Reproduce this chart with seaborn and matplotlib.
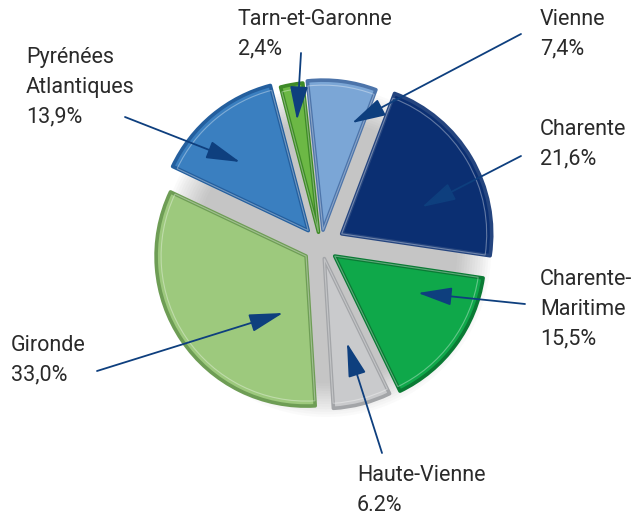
import matplotlib
matplotlib.use("Agg")
import matplotlib.pyplot as plt
import seaborn as sns
from matplotlib.patches import Circle

# ---- data ----
departements = ["Vienne", "Charente", "Charente-Maritime", "Haute-Vienne",
                "Gironde", "Pyrénées Atlantiques", "Tarn-et-Garonne"]
shares = [7.4, 21.6, 15.5, 6.2, 33.0, 13.9, 2.4]
label_texts = ["Vienne\n7,4%", "Charente\n21,6%", "Charente-\nMaritime\n15,5%",
               "Haute-Vienne\n6.2%", "Gironde\n33,0%",
               "Pyrénées\nAtlantiques\n13,9%", "Tarn-et-Garonne\n2,4%"]

# ---- style ----
face_colors = ["#7BA6D6", "#0B2F72", "#0FA84A", "#C9CACC",
               "#9DC97D", "#3A7FC0", "#6CB845"]
edge_colors = ["#4C74AA", "#25457F", "#0A7A34", "#A3A5A8",
               "#6E9D55", "#245F9E", "#3E8A27"]
explode_px = [16, 24, 17, 13, 18, 20, 14]

W, H = 644, 515
R = 150.0
CX, CY = 321.0, H - 246.0

# label layout: (left x, top y in pixels), arrow start, arrow tip (pixels)
label_pos = [(540, 9), (540, 119), (540, 269), (357, 465), (11, 335), (26, 47), (238, 9)]
arrow_start = [(521, 34), (521, 156), (525, 304), (382, 453), (97, 371), (125, 117), (301, 53)]
arrow_tip = [(352, 123), (422, 207), (418, 293), (347, 343), (283, 313), (240, 162), (297, 120)]

sns.set_theme(style="white")
plt.rcParams["font.family"] = ["Roboto", "DejaVu Sans"]

fig = plt.figure(figsize=(W / 100, H / 100), dpi=100)
ax = fig.add_axes([0, 0, 1, 1])

# soft shadow behind the pie
for i in range(14):
    ax.add_patch(Circle((CX + 5, CY - 6), R * 1.10 - i * 2.6, fc="#6f6f6f",
                        ec="none", alpha=0.03, zorder=0))

wedges, _ = ax.pie(shares, explode=explode_px, colors=sns.color_palette(face_colors),
                   startangle=96, counterclock=False, radius=R, center=(CX, CY),
                   wedgeprops=dict(linewidth=2.6, joinstyle="round"))
for w, ec in zip(wedges, edge_colors):
    w.set_edgecolor(ec)
    w.set_zorder(2)

# inner highlight rim
wedges2, _ = ax.pie(shares, explode=explode_px, colors=["none"] * 7,
                    startangle=96, counterclock=False, radius=R - 5, center=(CX, CY),
                    wedgeprops=dict(linewidth=0.8, edgecolor=(1, 1, 1, 0.35), fill=False))
for w in wedges2:
    w.set_zorder(3)

ax.set_xlim(0, W)
ax.set_ylim(0, H)
ax.set_aspect("equal")
ax.axis("off")

for txt, (lx, ly), (sx, sy), (tx, ty) in zip(label_texts, label_pos, arrow_start, arrow_tip):
    ax.text(lx, H - ly, txt, ha="left", va="top", fontsize=15.5, color="#2A2A2A",
            linespacing=1.55, zorder=5)
    ax.annotate("", xy=(tx, H - ty), xytext=(sx, H - sy),
                arrowprops=dict(arrowstyle="-|>,head_length=1.5,head_width=0.4",
                                color="#0E3F7E", lw=1.3, shrinkA=0, shrinkB=0,
                                mutation_scale=14), zorder=6)

fig.savefig("out.png", dpi=100, facecolor="white")
